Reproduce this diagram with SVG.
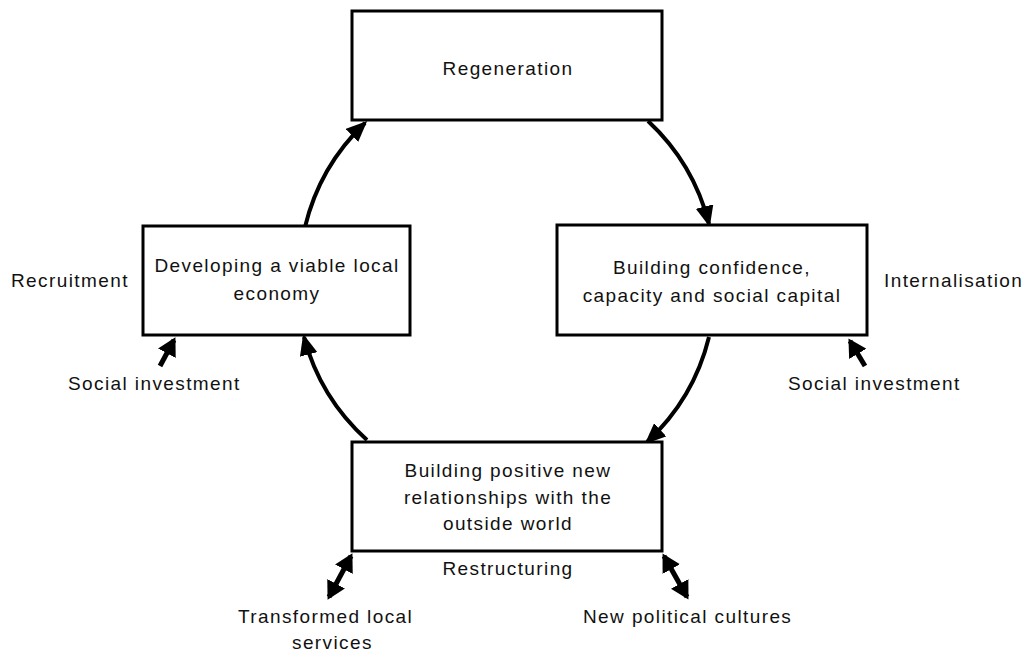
<svg xmlns="http://www.w3.org/2000/svg" width="1024" height="653" viewBox="0 0 1024 653">
<style>
.box{fill:#fff;stroke:#000;stroke-width:3}
text{font-family:"Liberation Sans",Arial,sans-serif;font-size:19px;letter-spacing:1.4px;fill:#111}
.c{text-anchor:middle}
.arc{fill:none;stroke:#000;stroke-width:4}
.st{fill:none;stroke:#000;stroke-width:5}
</style>
<defs>
<marker id="ah" markerUnits="userSpaceOnUse" markerWidth="22" markerHeight="18" viewBox="0 0 22 18" refX="18" refY="9" orient="auto">
<path d="M0,0 L21,9 L0,18 z" fill="#000"/>
</marker>
<marker id="ah2" markerUnits="userSpaceOnUse" markerWidth="20" markerHeight="20" viewBox="0 0 20 20" refX="15" refY="10" orient="auto">
<path d="M0,0 L18,10 L0,20 z" fill="#000"/>
</marker>
<marker id="ah2s" markerUnits="userSpaceOnUse" markerWidth="20" markerHeight="20" viewBox="0 0 20 20" refX="5" refY="10" orient="auto">
<path d="M20,0 L2,10 L20,20 z" fill="#000"/>
</marker>
</defs>
<g id="connectors">
<path class="arc" d="M305,227 A212,212 0 0 1 365,123" marker-end="url(#ah)"/>
<path class="arc" d="M648,121 A212,212 0 0 1 709,224" marker-end="url(#ah)"/>
<path class="arc" d="M709,337 A212,212 0 0 1 647,442" marker-end="url(#ah)"/>
<path class="arc" d="M367,440 A212,212 0 0 1 304,337" marker-end="url(#ah)"/>
<line class="st" x1="160" y1="366" x2="174" y2="340" marker-end="url(#ah2)"/>
<line class="st" x1="865" y1="366" x2="850" y2="341" marker-end="url(#ah2)"/>
<line class="st" x1="351" y1="556" x2="329" y2="597" marker-start="url(#ah2s)" marker-end="url(#ah2)"/>
<line class="st" x1="664" y1="556" x2="687" y2="597" marker-start="url(#ah2s)" marker-end="url(#ah2)"/>
</g>
<g id="regeneration">
<rect class="box" x="352" y="11" width="310" height="109"/>
<text class="c" x="508" y="75">Regeneration</text>
</g>
<g id="economy">
<rect class="box" x="143" y="226" width="267" height="109"/>
<text class="c" x="277" y="272">Developing a viable local</text>
<text class="c" x="277" y="300">economy</text>
</g>
<g id="confidence">
<rect class="box" x="557" y="225" width="310" height="110"/>
<text class="c" x="712" y="274">Building confidence,</text>
<text class="c" x="712" y="302">capacity and social capital</text>
</g>
<g id="relationships">
<rect class="box" x="352" y="442" width="310" height="109"/>
<text class="c" x="508" y="477">Building positive new</text>
<text class="c" x="508" y="504">relationships with the</text>
<text class="c" x="508" y="530">outside world</text>
</g>
<g id="labels">
<text x="11" y="287">Recruitment</text>
<text x="884" y="287">Internalisation</text>
<text x="68" y="390">Social investment</text>
<text x="788" y="390">Social investment</text>
<text class="c" x="508" y="575">Restructuring</text>
<text x="238" y="623">Transformed local</text>
<text x="292" y="649">services</text>
<text x="583" y="623">New political cultures</text>
</g>
</svg>
